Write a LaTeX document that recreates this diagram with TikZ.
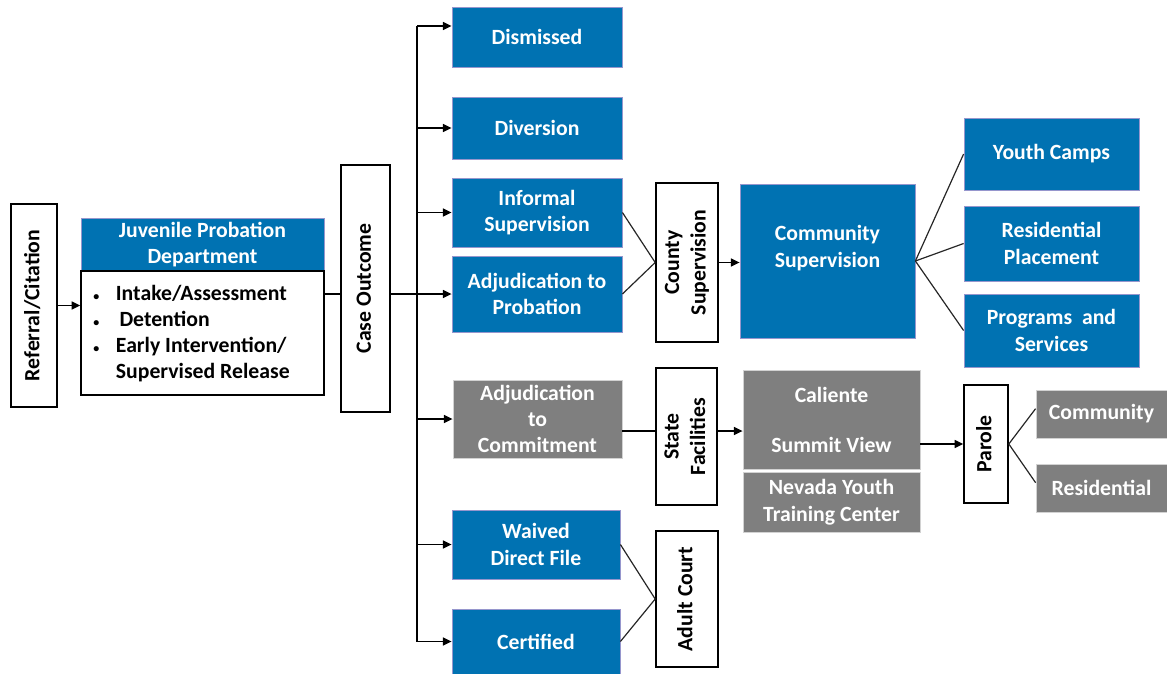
\documentclass[tikz,border=0pt]{standalone}
\usepackage{fontspec}
\setmainfont{Carlito}
\usetikzlibrary{arrows.meta,calc}
\definecolor{pblue}{RGB}{0,114,178}
\definecolor{pgray}{RGB}{127,127,127}
\definecolor{bline}{RGB}{150,150,205}
\newcommand{\rot}[1]{\rotatebox{90}{\begin{tabular}{@{}c@{}}#1\end{tabular}}}
% \bx{style}{name}{x1}{y1}{x2}{y2}{text}
\newcommand{\bx}[7]{%
  \node[#1, minimum width={((#5)-(#3))*0.75pt}, minimum height={((#6)-(#4))*0.75pt}]
    (#2) at ({((#3)+(#5))/2},{((#4)+(#6))/2}) {#7};}
\begin{document}
\begin{tikzpicture}[x=0.75pt,y=-0.75pt,
  every node/.style={font=\fontsize{16.3}{20}\selectfont\bfseries, inner sep=0pt},
  bluebox/.style={fill=pblue, draw=bline, line width=0.6pt, text=white, align=center},
  graybox/.style={fill=pgray, draw=gray!35, line width=0.6pt, text=white, align=center},
  whitebox/.style={fill=white, draw=black, line width=1.2pt, text=black, align=center},
  arr/.style={-{Triangle[length=6.5pt,width=6pt]}, line width=1.2pt},
  ln/.style={line width=1.2pt},
  fan/.style={line width=0.9pt, draw=black!85}]
\useasboundingbox (0,0) rectangle (1167,674);

% left part
\bx{whitebox}{ref}{11}{204}{57}{407}{\rot{Referral/Citation}}
\bx{bluebox}{jpdh}{81}{218}{324}{271}{Juvenile Probation\\Department}
\bx{whitebox}{jpdb}{81}{271}{324}{395}{}
\node[anchor=west, align=left, font=\fontsize{16.3}{19.7}\selectfont\bfseries] (jpdl) at (93,333.5)
  {\makebox[17pt][l]{\small\textbullet}Intake/Assessment\\
   \makebox[17pt][l]{\small\textbullet}\,Detention\\
   \makebox[17pt][l]{\small\textbullet}Early Intervention/\\
   \makebox[17pt][l]{}Supervised Release};
\bx{whitebox}{case}{341}{165}{390}{412}{\rot{Case Outcome}}

% outcomes
\bx{bluebox}{dis}{452}{7}{622}{67}{Dismissed}
\bx{bluebox}{div}{452}{97}{622}{159}{Diversion}
\bx{bluebox}{inf}{452}{178}{622}{247}{Informal\\Supervision}
\bx{bluebox}{adp}{452}{256}{622}{332}{Adjudication to\\Probation}
\bx{graybox}{adc}{453}{380}{622}{458}{Adjudication\\[-0.5pt]to\\[-0.5pt]Commitment}
\bx{bluebox}{wdf}{452}{510}{620}{579}{Waived\\Direct File}
\bx{bluebox}{cer}{452}{609}{620}{674}{Certified}

% county branch
\bx{whitebox}{cty}{656}{183}{718}{342}{\rot{County\\Supervision}}
\bx{bluebox}{csu}{740}{184}{915}{338}{\raisebox{5pt}[0pt][0pt]{\begin{tabular}{@{}c@{}}Community\\Supervision\end{tabular}}}
\bx{bluebox}{yc}{964}{118}{1139}{190}{Youth Camps}
\bx{bluebox}{rp}{964}{206}{1139}{281}{Residential\\Placement}
\bx{bluebox}{ps}{964}{294}{1139}{367}{Programs\ \ and\\Services}

% state branch
\bx{whitebox}{sf}{656}{368}{717}{505}{\rot{State\\Facilities}}
\bx{graybox}{cal}{743}{370}{920}{469}{Caliente\\[17.5pt]Summit View}
\bx{graybox}{nev}{743}{472}{920}{532}{Nevada Youth\\Training Center}
\bx{whitebox}{par}{964}{385}{1008}{503}{\rot{Parole}}
\bx{graybox}{pcom}{1036}{390}{1167}{438}{Community}
\bx{graybox}{pres}{1036}{464}{1167}{512}{Residential}

% adult court
\bx{whitebox}{adult}{656}{531}{718}{667}{\rot{Adult Court}}

% helper coordinates
\coordinate (tr) at (417,0);
\coordinate (dy) at (0,26);
\coordinate (sy) at (0,431);

% connectors
\draw[arr] (ref.east) -- (ref.east -| jpdb.west);
\draw[ln] (jpdb.east |- adp) -- (case.west |- adp);
\draw[arr] (case.east |- adp) -- (adp.west);
\draw[ln] (tr |- dy) -- (tr |- cer);
\draw[arr] (tr |- dy) -- (dis.west |- dy);
\draw[arr] (tr |- div) -- (div.west);
\draw[arr] (tr |- inf) -- (inf.west);
\draw[arr] (tr |- adc) -- (adc.west);
\draw[arr] (tr |- wdf) -- (wdf.west);
\draw[arr] (tr |- cer) -- (cer.west);

\draw[fan] (inf.east) -- (cty.west);
\draw[fan] (adp.east) -- (cty.west);
\draw[arr] (cty.east) -- (csu.west |- cty.east);
\draw[fan] (csu.east) -- (yc.west);
\draw[fan] (csu.east) -- (rp.west);
\draw[fan] (csu.east) -- (ps.west);

\draw[ln] (adc.east |- sy) -- (sf.west |- sy);
\draw[arr] (sf.east |- sy) -- (cal.west |- sy);
\draw[arr] (cal.east |- par.west) -- (par.west);
\draw[fan] (par.east) -- ([yshift=4pt]pcom.west);
\draw[fan] (par.east) -- ([yshift=4pt]pres.west);

\draw[fan] (wdf.east) -- (adult.west);
\draw[fan] (cer.east) -- (adult.west);
\end{tikzpicture}
\end{document}
